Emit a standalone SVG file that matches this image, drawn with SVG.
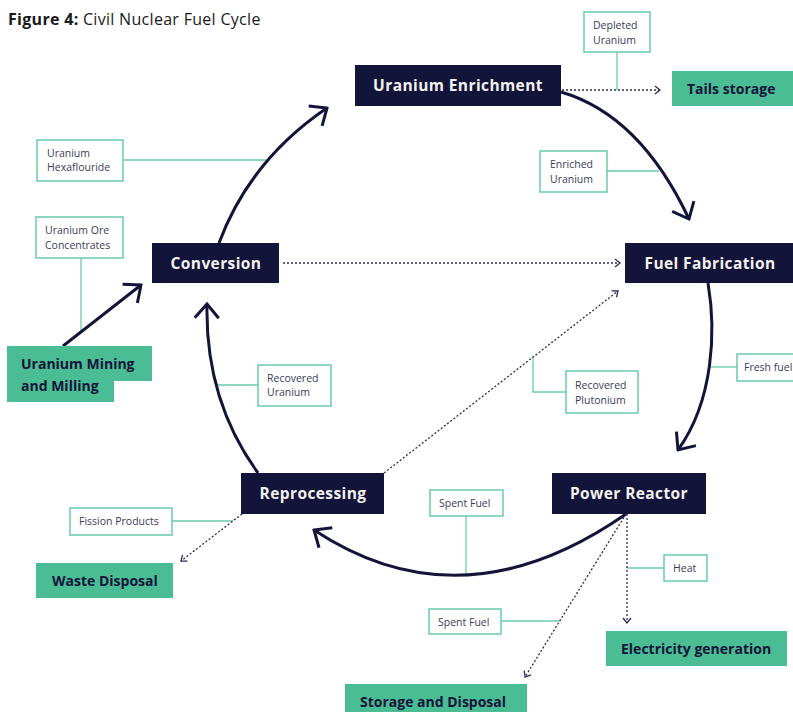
<svg xmlns="http://www.w3.org/2000/svg" width="793" height="712" viewBox="0 0 793 712">
<style>
.node rect{fill:#12143a}
.node text{fill:#f4f2ee;font-family:"Open Sans","Liberation Sans",sans-serif;font-weight:700;font-size:15.5px;letter-spacing:0.4px;text-anchor:middle}
.out rect{fill:#4bbd94}
.out text{fill:#12143a;font-family:"Open Sans","Liberation Sans",sans-serif;font-weight:700;font-size:14px}
.lbl rect{fill:#fff;stroke:#6acba8;stroke-width:1.5}
.lbl text{fill:#3a3b58;font-family:"Open Sans","Liberation Sans",sans-serif;font-size:10.5px}
.lead{fill:none;stroke:#6acba8;stroke-width:1.3}
.main{fill:none;stroke:#12143a;stroke-width:3;marker-end:url(#big)}
.dot{fill:none;stroke:#2b2d50;stroke-width:1.3;stroke-dasharray:2 2;marker-end:url(#small)}
</style>
<defs>
<marker id="big" markerUnits="userSpaceOnUse" viewBox="-16 -14 18 28" refX="0" refY="0" markerWidth="18" markerHeight="28" orient="auto">
<path d="M-14,-12 L0,0 L-14,12" fill="none" stroke="#12143a" stroke-width="3"/>
</marker>
<marker id="small" markerUnits="userSpaceOnUse" viewBox="-7 -6 8 12" refX="0" refY="0" markerWidth="8" markerHeight="12" orient="auto">
<path d="M-5,-4 L0,0 L-5,4" fill="none" stroke="#2b2d50" stroke-width="1.3"/>
</marker>
</defs>
<rect width="793" height="712" fill="#fff"/>
<text x="8" y="25" font-family="'Open Sans','Liberation Sans',sans-serif" font-size="16" letter-spacing="0.3" fill="#1a1a1a"><tspan font-weight="700">Figure 4:</tspan> Civil Nuclear Fuel Cycle</text>

<g id="connectors">
<path class="lead" d="M123,160 H266"/>
<path class="lead" d="M607,171 H659"/>
<path class="lead" d="M617,52 V90"/>
<path class="lead" d="M81,258 V333"/>
<path class="lead" d="M258,385 H216"/>
<path class="lead" d="M533,357 V392 H566"/>
<path class="lead" d="M737,367 H711"/>
<path class="lead" d="M172,521 H233"/>
<path class="lead" d="M466,516 V575"/>
<path class="lead" d="M664,568 H627"/>
<path class="lead" d="M501,621 H559"/>

<path class="main" d="M219,243 Q250,160 327,108"/>
<path class="main" d="M561,92 Q640,115 689,219"/>
<path class="main" d="M708,283 C716,330 714,400 678,450"/>
<path class="main" d="M626,514 Q462,628 314,530"/>
<path class="main" d="M258,473 Q205,400 207,304"/>
<path class="main" d="M63,346 L141,285"/>

<path class="dot" d="M562,90 H660"/>
<path class="dot" d="M283,263 H620"/>
<path class="dot" d="M384,473 L618,291"/>
<path class="dot" d="M242,514 L181,561"/>
<path class="dot" d="M627,514 V623"/>
<path class="dot" d="M626,514 L525,677"/>
</g>

<g id="uranium-enrichment" class="node"><rect x="355" y="65" width="206" height="41"/><text x="458" y="91">Uranium Enrichment</text></g>
<g id="conversion" class="node"><rect x="152" y="243" width="127" height="40"/><text x="216" y="269">Conversion</text></g>
<g id="fuel-fabrication" class="node"><rect x="625" y="243" width="168" height="40"/><text x="710" y="269">Fuel Fabrication</text></g>
<g id="reprocessing" class="node"><rect x="241" y="473" width="143" height="41"/><text x="313" y="499">Reprocessing</text></g>
<g id="power-reactor" class="node"><rect x="552" y="473" width="154" height="41"/><text x="629" y="499">Power Reactor</text></g>

<g id="tails-storage" class="out"><rect x="672" y="71" width="121" height="35"/><text x="687" y="94">Tails storage</text></g>
<g id="uranium-mining" class="out"><path d="M7,346 H152 V381 H114 V402 H7 Z" fill="#4bbd94"/><text x="21" y="369">Uranium Mining</text><text x="21" y="391">and Milling</text></g>
<g id="waste-disposal" class="out"><rect x="36" y="563" width="137" height="35"/><text x="52" y="586">Waste Disposal</text></g>
<g id="electricity-generation" class="out"><rect x="606" y="631" width="181" height="35"/><text x="621" y="654">Electricity generation</text></g>
<g id="storage-disposal" class="out"><rect x="345" y="684" width="182" height="30"/><text x="360" y="707">Storage and Disposal</text></g>

<g id="lbl-depleted" class="lbl"><rect x="584" y="12" width="66" height="40"/><text x="593" y="29">Depleted</text><text x="593" y="44">Uranium</text></g>
<g id="lbl-enriched" class="lbl"><rect x="540" y="151" width="67" height="41"/><text x="550" y="168">Enriched</text><text x="550" y="183">Uranium</text></g>
<g id="lbl-hexa" class="lbl"><rect x="37" y="140" width="86" height="41"/><text x="47" y="157">Uranium</text><text x="47" y="171">Hexaflouride</text></g>
<g id="lbl-ore" class="lbl"><rect x="36" y="217" width="87" height="41"/><text x="45" y="234">Uranium Ore</text><text x="45" y="249">Concentrates</text></g>
<g id="lbl-recu" class="lbl"><rect x="258" y="365" width="73" height="41"/><text x="267" y="382">Recovered</text><text x="267" y="396">Uranium</text></g>
<g id="lbl-recpu" class="lbl"><rect x="566" y="371" width="72" height="42"/><text x="575" y="389">Recovered</text><text x="575" y="404">Plutonium</text></g>
<g id="lbl-fresh" class="lbl"><rect x="737" y="354" width="62" height="27"/><text x="744" y="371">Fresh fuel</text></g>
<g id="lbl-fission" class="lbl"><rect x="70" y="508" width="102" height="27"/><text x="79" y="525">Fission Products</text></g>
<g id="lbl-spent1" class="lbl"><rect x="430" y="490" width="73" height="26"/><text x="439" y="507">Spent Fuel</text></g>
<g id="lbl-heat" class="lbl"><rect x="664" y="555" width="43" height="26"/><text x="673" y="572">Heat</text></g>
<g id="lbl-spent2" class="lbl"><rect x="429" y="609" width="72" height="25"/><text x="438" y="626">Spent Fuel</text></g>
</svg>
